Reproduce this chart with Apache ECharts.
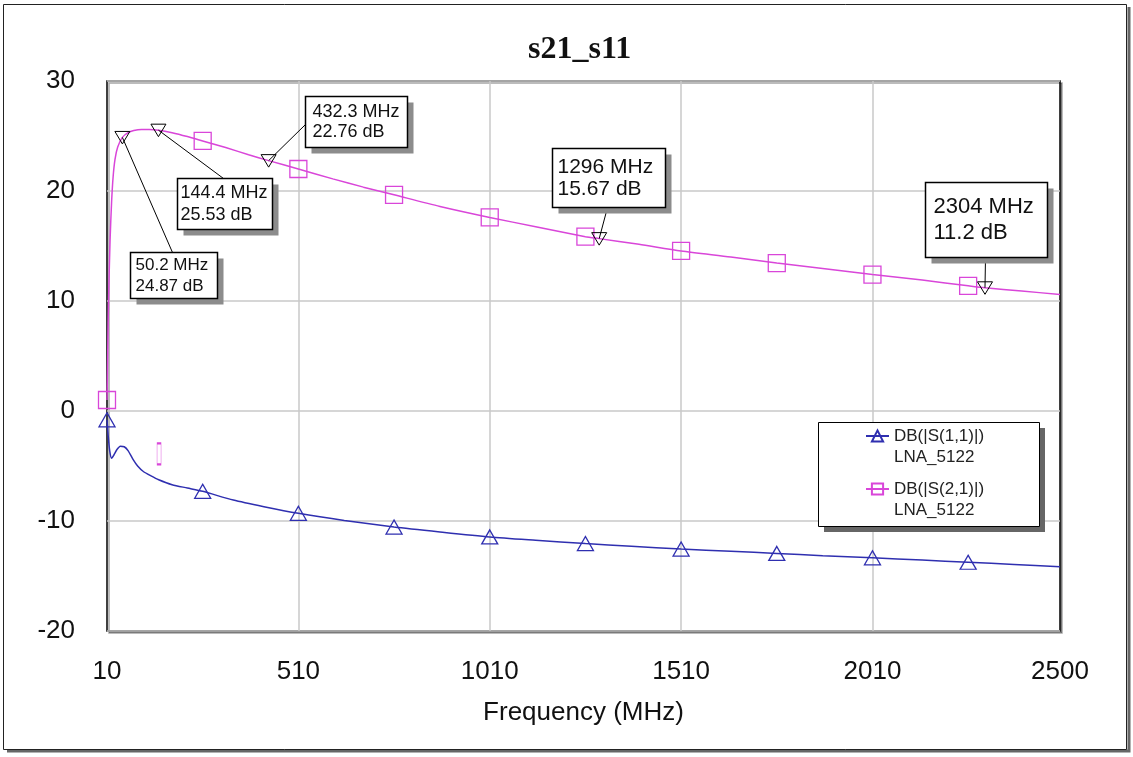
<!DOCTYPE html>
<html><head><meta charset="utf-8">
<script src="https://cdn.jsdelivr.net/npm/echarts@6/dist/echarts.min.js"></script>
<style>html,body{margin:0;padding:0;background:#fff}#c{width:1133px;height:757px}</style>
</head><body><div id="c"></div>
<script>
// ---- data ----
const chartTitle = 's21_s11';
const xAxisName = 'Frequency (MHz)';
const deviceName = 'LNA_5122';
const s11Name = 'DB(|S(1,1)|)';
const s21Name = 'DB(|S(2,1)|)';

const s21Freq = [10,11,12,13,15,18,22,26,31,38,50.2,65,80,100,120,144.4,180,220,260,320,380,432.3,510,600,680,760,880,1010,1130,1260,1296,1400,1510,1640,1760,1880,2010,2140,2260,2304,2400,2500];
const s21Db   = [1.0,3.0,5.5,8.0,11.5,15.5,19.0,21.3,22.9,24.0,24.87,25.3,25.5,25.6,25.6,25.53,25.3,24.95,24.55,23.95,23.3,22.76,22.0,21.1,20.35,19.65,18.6,17.6,16.75,15.85,15.67,15.15,14.55,14.0,13.45,12.95,12.4,11.9,11.38,11.2,10.9,10.6];

const s11Freq = [10,13,17,22,28,36,45,55,65,78,90,105,125,145,180,220,260,340,420,510,630,760,880,1010,1130,1260,1380,1510,1640,1760,1880,2010,2140,2260,2380,2500];
const s11Db   = [-0.8,-2.2,-3.6,-4.3,-4.0,-3.5,-3.2,-3.25,-3.6,-4.4,-5.0,-5.5,-5.9,-6.25,-6.7,-7.0,-7.3,-8.1,-8.7,-9.3,-9.95,-10.55,-11.0,-11.45,-11.75,-12.05,-12.3,-12.55,-12.75,-12.95,-13.15,-13.35,-13.55,-13.75,-13.95,-14.15];

const symbolFreqs = [10,260,510,760,1010,1260,1510,1760,2010,2260];
const xLabelValues = [10,510,1010,1510,2010,2500];
const xGridValues = [510,1010,1510,2010];
const yMin = -20, yMax = 30, yStep = 10;

const markerFreq = [50.2,144.4,432.3,1296,2304];
const markerDb   = [24.87,25.53,22.76,15.67,11.2];

const glyphFreq = [146];
const glyphDb = [-3.9];

// ---- layout / style (not data) ----
const FONT = "'Liberation Sans', Arial, sans-serif";
const PINK = '#d946d9';
const BLUE = '#2f2fb0';
const annLayout = [
  {dx: 7.6,  dy: 114.6, w: 87,  h: 46, tx: 5, fs: 17, lh: 21, lx: 42, ly: 0},
  {dx: 18.6, dy: 47.8,  w: 95,  h: 51, tx: 3, fs: 18, lh: 22, lx: 46, ly: 0},
  {dx: 36.4, dy: -64.6, w: 102, h: 51, tx: 7, fs: 18, lh: 20, lx: 0,  ly: 28},
  {dx: -47,  dy: -90.6, w: 113, h: 59, tx: 5, fs: 21, lh: 22, lx: 55, ly: 59},
  {dx: -60,  dy: -105.8,w: 122, h: 75, tx: 8, fs: 22, lh: 26, lx: 60, ly: 75}
];

function buildLine(freqs, vals, sym) {
  return freqs.map((f, i) => ({
    value: [f, vals[i]],
    symbol: symbolFreqs.indexOf(f) >= 0 ? sym : 'none'
  }));
}

const chart = echarts.init(document.getElementById('c'), null, {renderer: 'canvas'});
chart.setOption({
  animation: false,
  backgroundColor: '#fff',
  title: {
    text: chartTitle, left: 528, top: 34, padding: 0,
    textStyle: {fontFamily: "'Liberation Serif', 'Times New Roman', serif", fontWeight: 'bold', fontSize: 32, color: '#111'}
  },
  grid: {
    show: true, left: 107, right: 73, top: 81, bottom: 126,
    borderColor: '#000', borderWidth: 1.5, backgroundColor: '#fff',
    shadowColor: 'rgba(0,0,0,0.35)', shadowBlur: 0, shadowOffsetX: 2, shadowOffsetY: 2
  },
  xAxis: {
    type: 'value', min: 10, max: 2500,
    name: xAxisName, nameLocation: 'middle', nameGap: 69,
    nameTextStyle: {fontFamily: FONT, fontSize: 26, color: '#111'},
    axisLine: {show: false},
    axisTick: {show: false, customValues: xGridValues},
    axisLabel: {customValues: xLabelValues, formatter: v => String(v), fontFamily: FONT, fontSize: 26, color: '#111', margin: 28},
    splitLine: {show: true, lineStyle: {color: '#c8c8c8', width: 1.5}}
  },
  yAxis: {
    type: 'value', min: yMin, max: yMax, interval: yStep,
    axisLine: {show: false}, axisTick: {show: false},
    axisLabel: {fontFamily: FONT, fontSize: 26, color: '#111', margin: 32},
    splitLine: {show: true, lineStyle: {color: '#c8c8c8', width: 1.5}}
  },
  legend: {
    data: [s11Name, s21Name], orient: 'vertical', left: 865, top: 404.5, padding: 0,
    itemGap: -10, itemWidth: 23, itemHeight: 14, z: 6,
    formatter: n => '\n' + n + '\n' + deviceName,
    textStyle: {fontFamily: FONT, fontSize: 17, lineHeight: 21, color: '#222'}
  },
  graphic: [
    {type: 'polyline', z: -5, shape: {points: [[7, 751], [1129, 751], [1129, 7]]}, style: {stroke: '#666', lineWidth: 3, fill: null}},
    {type: 'rect', z: -4, shape: {x: 3.5, y: 4.5, width: 1123, height: 745}, style: {fill: null, stroke: '#222', lineWidth: 1}},
    {type: 'rect', z: 3, shape: {x: 824, y: 428, width: 221, height: 104}, style: {fill: '#666'}},
    {type: 'rect', z: 3, shape: {x: 818.5, y: 422.5, width: 221, height: 104}, style: {fill: '#fff', stroke: '#000', lineWidth: 1}}
  ],
  series: [
    {
      name: s11Name, type: 'line', data: buildLine(s11Freq, s11Db, 'triangle'),
      smooth: 0.25, showAllSymbol: true, symbol: 'triangle', symbolSize: [16, 14],
      lineStyle: {color: BLUE, width: 1.5},
      itemStyle: {color: 'rgba(0,0,0,0)', borderColor: BLUE, borderWidth: 1.3},
      emphasis: {disabled: true}
    },
    {
      name: s21Name, type: 'line', data: buildLine(s21Freq, s21Db, 'rect'),
      smooth: 0.25, showAllSymbol: true, symbol: 'rect', symbolSize: 17,
      lineStyle: {color: PINK, width: 1.5},
      itemStyle: {color: 'rgba(0,0,0,0)', borderColor: PINK, borderWidth: 1.3},
      emphasis: {disabled: true},
      markPoint: {
        symbol: 'rect', symbolSize: [4, 21], silent: true,
        data: glyphFreq.map((f, i) => ({coord: [f, glyphDb[i]]})),
        itemStyle: {color: 'rgba(0,0,0,0)', borderColor: PINK, borderWidth: 1},
        label: {show: false}
      }
    },
    {
      name: 'markers', type: 'custom', coordinateSystem: 'cartesian2d', z: 5,
      data: markerFreq.map((f, i) => [f, markerDb[i], i]),
      encode: {x: 0, y: 1},
      renderItem: function (params, api) {
        const f = api.value(0), db = api.value(1), i = api.value(2);
        const p = api.coord([f, db]);
        const L = annLayout[i];
        const bx = Math.round(p[0] + L.dx) + 0.5, by = Math.round(p[1] + L.dy) + 0.5;
        return {
          type: 'group',
          children: [
            {type: 'line', shape: {x1: bx + L.lx, y1: by + L.ly, x2: p[0], y2: p[1]}, style: {stroke: '#000', lineWidth: 1}},
            {type: 'rect', shape: {x: bx + 6, y: by + 6, width: L.w, height: L.h}, style: {fill: '#8c8c8c'}},
            {type: 'rect', shape: {x: bx, y: by, width: L.w, height: L.h}, style: {fill: '#fff', stroke: '#000', lineWidth: 1.5}},
            {type: 'text', style: {x: bx + L.tx, y: by + L.h / 2, text: f + ' MHz\n' + db + ' dB',
              fontFamily: FONT, fontSize: L.fs, lineHeight: L.lh, fill: '#111', align: 'left', verticalAlign: 'middle'}},
            {type: 'polygon', shape: {points: [[p[0] - 7.5, p[1] - 6], [p[0] + 7.5, p[1] - 6], [p[0], p[1] + 6.5]]},
              style: {fill: 'rgba(0,0,0,0)', stroke: '#000', lineWidth: 1}}
          ]
        };
      }
    }
  ]
});
</script></body></html>
